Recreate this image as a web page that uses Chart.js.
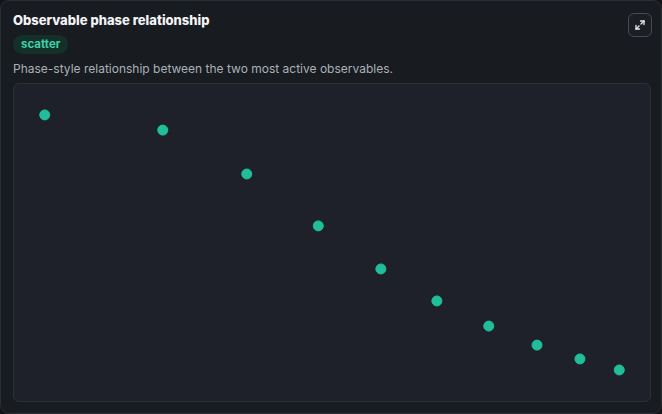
<!DOCTYPE html>
<html>
<head>
<meta charset="utf-8">
<script src="https://cdn.jsdelivr.net/npm/chart.js@4.4.1/dist/chart.umd.min.js"></script>
<style>
  html, body { margin: 0; padding: 0; background: #111316; }
  body { width: 662px; height: 414px; overflow: hidden; font-family: Inter, "Noto Sans", sans-serif; }
  .card {
    position: absolute; left: 0; top: 0; width: 660px; height: 412px;
    background: #181b1f; border: 1px solid #2a2f35; border-radius: 9px;
  }
  .title { position: absolute; left: 12px; top: 11px; color: #f2f4f6; font-size: 13px; font-weight: 800; }
  .badge {
    position: absolute; left: 12px; top: 34px; height: 19px; line-height: 19px; padding: 0 8px;
    background: #133029; color: #3fd2a6; font-size: 11.5px; font-weight: 700; border-radius: 10px;
  }
  .desc { position: absolute; left: 12px; top: 60px; color: #aab1b9; font-size: 12px; }
  .expand {
    position: absolute; left: 627px; top: 12px; width: 22px; height: 22px;
    border: 1px solid #454b52; border-radius: 6px; background: #1b1e22;
  }
  .panel {
    position: absolute; left: 12px; top: 82px; width: 636px; height: 317px;
    background: #1e2129; border: 1px solid #2c3037; border-radius: 6px;
  }
</style>
</head>
<body>
<div class="card">
  <div class="title">Observable phase relationship</div>
  <div class="badge">scatter</div>
  <div class="desc">Phase-style relationship between the two most active observables.</div>
  <div class="expand">
    <svg width="22" height="22" viewBox="0 0 22 22">
      <g stroke="#e8eaed" stroke-width="1.3" fill="none" stroke-linecap="round">
        <path d="M7 15 L10 12"/>
        <path d="M12 10 L15 7"/>
        <path d="M11.5 7 H15 V10.5"/>
        <path d="M7 11.5 V15 H10.5"/>
      </g>
    </svg>
  </div>
  <div class="panel"><canvas id="phaseChart"></canvas></div>
</div>
<script>
// values (axes are hidden, so these are relative positions)
const observableA = [0.018, 0.216, 0.357, 0.477, 0.582, 0.676, 0.763, 0.844, 0.916, 0.982];
const observableB = [0.964, 0.909, 0.750, 0.562, 0.406, 0.290, 0.199, 0.130, 0.080, 0.040];

const points = observableA.map((x, i) => ({ x: x, y: observableB[i] }));

const canvas = document.getElementById('phaseChart');
canvas.width = 636;
canvas.height = 317;
canvas.style.width = '636px';
canvas.style.height = '317px';

new Chart(canvas.getContext('2d'), {
  type: 'scatter',
  data: {
    datasets: [{
      label: 'phase',
      data: points,
      backgroundColor: '#20bf99',
      borderColor: '#20bf99',
      pointRadius: 5,
      pointHoverRadius: 5,
    }],
  },
  options: {
    responsive: false,
    animation: false,
    layout: { padding: { left: 20, right: 20, top: 21, bottom: 20 } },
    plugins: { legend: { display: false }, tooltip: { enabled: false } },
    scales: {
      x: { display: false, min: 0, max: 1 },
      y: { display: false, min: 0, max: 1 },
    },
  },
});
</script>
</body>
</html>
